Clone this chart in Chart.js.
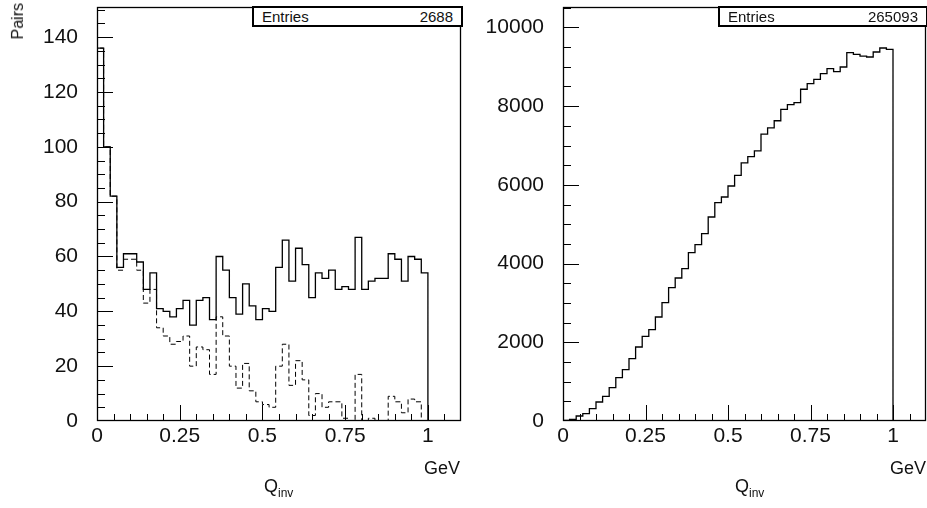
<!DOCTYPE html>
<html><head><meta charset="utf-8">
<script src="https://cdn.jsdelivr.net/npm/chart.js@4.4.0/dist/chart.umd.min.js"></script>
<style>
html,body{margin:0;padding:0;background:#fff;}
#wrap{position:relative;width:927px;height:508px;overflow:hidden;font-family:'Liberation Sans',Arial,sans-serif;color:#111;}
canvas{position:absolute;top:0;}
#cL{left:0;} #cR{left:463px;}
.lbl{position:absolute;font-size:18px;line-height:18px;white-space:nowrap;}
.lbl sub{font-size:12px;vertical-align:-5px;line-height:0;}
.stat{position:absolute;top:6px;height:21px;border:2px solid #000;box-sizing:border-box;background:#fff;font-size:15px;line-height:17px;}
.stat .k{position:absolute;left:8px;top:0;}
.stat .v{position:absolute;right:8px;top:0;}
.pairs{position:absolute;left:10px;top:3px;font-size:16px;line-height:16px;writing-mode:vertical-rl;transform:rotate(180deg);}
</style></head>
<body><div id="wrap">
<canvas id="cL" width="463" height="508"></canvas>
<canvas id="cR" width="464" height="508"></canvas>
<div class="pairs">Pairs</div>
<div class="stat" style="left:252px;width:211px;"><span class="k">Entries</span><span class="v" id="entL"></span></div>
<div class="stat" style="left:718px;width:210px;"><span class="k">Entries</span><span class="v" id="entR"></span></div>
<div class="lbl" style="left:424px;top:459px;">GeV</div>
<div class="lbl" style="left:890px;top:459px;">GeV</div>
<div class="lbl" style="left:264px;top:477px;">Q<sub>inv</sub></div>
<div class="lbl" style="left:735px;top:477px;">Q<sub>inv</sub></div>
</div>
<script>
// ---- data ----
const qinvBinLow = [0.00,0.02,0.04,0.06,0.08,0.10,0.12,0.14,0.16,0.18,
  0.20,0.22,0.24,0.26,0.28,0.30,0.32,0.34,0.36,0.38,
  0.40,0.42,0.44,0.46,0.48,0.50,0.52,0.54,0.56,0.58,
  0.60,0.62,0.64,0.66,0.68,0.70,0.72,0.74,0.76,0.78,
  0.80,0.82,0.84,0.86,0.88,0.90,0.92,0.94,0.96,0.98];
const pairsSolid = [136,100,82,56,61,61,58,48,54,41,
  40,38,41,44,35,44,45,37,60,55,
  45,39,50,42,37,41,40,56,66,51,
  63,57,45,54,52,55,48,49,48,67,
  48,51,52,52,61,59,51,60,59,54];
const pairsDashed = [136,100,82,55,59,59,55,43,48,34,
  31,28,29,31,20,27,26,17,38,31,
  20,12,21,11,7,6,5,20,28,13,
  22,15,2,10,5,7,7,1,0,17,
  0,1,0,0,9,7,3,8,7,0];
const mixedPairs = [18,43,127,186,313,483,627,847,1101,1305,
  1584,1880,2151,2321,2643,3008,3389,3634,3872,4279,
  4482,4761,5184,5550,5692,5972,6240,6560,6720,6862,
  7290,7450,7630,7920,8040,8090,8430,8573,8683,8827,
  8954,8880,8995,9361,9318,9270,9249,9376,9478,9445];
const entriesLeft = 2688;
const entriesRight = 265093;
const xTickLabels = [0, 0.25, 0.5, 0.75, 1];
const leftYTickLabels = [0,20,40,60,80,100,120,140];
const rightYTickLabels = [0,2000,4000,6000,8000,10000];

document.getElementById('entL').textContent = entriesLeft;
document.getElementById('entR').textContent = entriesRight;

function histPoints(vals){
  const w = qinvBinLow[1]-qinvBinLow[0];
  const pts=[{x:qinvBinLow[0],y:0}];
  vals.forEach((v,i)=>pts.push({x:qinvBinLow[i],y:v}));
  pts.push({x:qinvBinLow[qinvBinLow.length-1]+w,y:0});
  return pts;
}

const FONT = {family:"'Liberation Sans', Arial, sans-serif", size:21};

const rootFrame = {
  id:'rootFrame',
  afterDatasetsDraw(chart, args, o){
    const {ctx, chartArea:a, scales:{x,y}} = chart;
    ctx.save();
    ctx.strokeStyle='#000'; ctx.lineWidth=1;
    ctx.beginPath();
    const nx = Math.round((x.max-x.min)/o.xMinor);
    for(let i=1;i<nx;i++){
      const v = x.min+i*o.xMinor;
      const r = v/o.xMajor, major = Math.abs(r-Math.round(r))<1e-6;
      const px = Math.round(x.getPixelForValue(v))+0.5;
      ctx.moveTo(px,a.bottom); ctx.lineTo(px,a.bottom-(major?16:7));
    }
    const ny = Math.floor((y.max-y.min)/o.yMinor+1e-6);
    for(let i=1;i<=ny;i++){
      const v = y.min+i*o.yMinor;
      const r = v/o.yMajor, major = Math.abs(r-Math.round(r))<1e-6;
      const py = Math.round(y.getPixelForValue(v))+0.5;
      ctx.moveTo(a.left,py); ctx.lineTo(a.left+(major?16:8),py);
    }
    ctx.stroke();
    ctx.lineWidth=1.3;
    ctx.strokeRect(a.left+0.5,a.top+0.5,a.right-a.left-1,a.bottom-a.top-1);
    ctx.restore();
  }
};

function makeChart(id, datasets, ymax, yLabels, yW, rightPad, o){
  return new Chart(document.getElementById(id), {
    type:'line',
    data:{datasets},
    options:{
      animation:false, responsive:false, devicePixelRatio:1, events:[],
      layout:{padding:{top:7,right:rightPad,left:0,bottom:0}},
      plugins:{legend:{display:false},tooltip:{enabled:false},rootFrame:o},
      elements:{point:{radius:0}},
      scales:{
        x:{type:'linear',min:0,max:1.1,
          grid:{display:false,drawTicks:false},border:{display:false},
          afterBuildTicks:s=>{s.ticks=xTickLabels.map(v=>({value:v}));},
          afterFit:s=>{s.height=87;s.paddingLeft=0;s.paddingRight=0;},
          ticks:{font:FONT,color:'#111',padding:3,maxRotation:0,autoSkip:false,callback:v=>String(v)}},
        y:{type:'linear',min:0,max:ymax,
          grid:{display:false,drawTicks:false},border:{display:false},
          afterBuildTicks:s=>{s.ticks=yLabels.map(v=>({value:v}));},
          afterFit:s=>{s.width=yW;s.paddingTop=0;s.paddingBottom=0;},
          ticks:{font:FONT,color:'#111',padding:19,autoSkip:false,callback:v=>String(v)}}
      }
    },
    plugins:[rootFrame]
  });
}

makeChart('cL',[
  {data:histPoints(pairsDashed),stepped:true,borderColor:'#000',borderWidth:1,borderDash:[5,3],fill:false},
  {data:histPoints(pairsSolid),stepped:true,borderColor:'#000',borderWidth:1.3,fill:false}
],151,leftYTickLabels,97,2,{xMinor:0.05,xMajor:0.25,yMinor:5,yMajor:20});

makeChart('cR',[
  {data:histPoints(mixedPairs),stepped:true,borderColor:'#000',borderWidth:1.3,fill:false}
],10520,rightYTickLabels,100,1,{xMinor:0.05,xMajor:0.25,yMinor:500,yMajor:2000});
</script>
</body></html>
